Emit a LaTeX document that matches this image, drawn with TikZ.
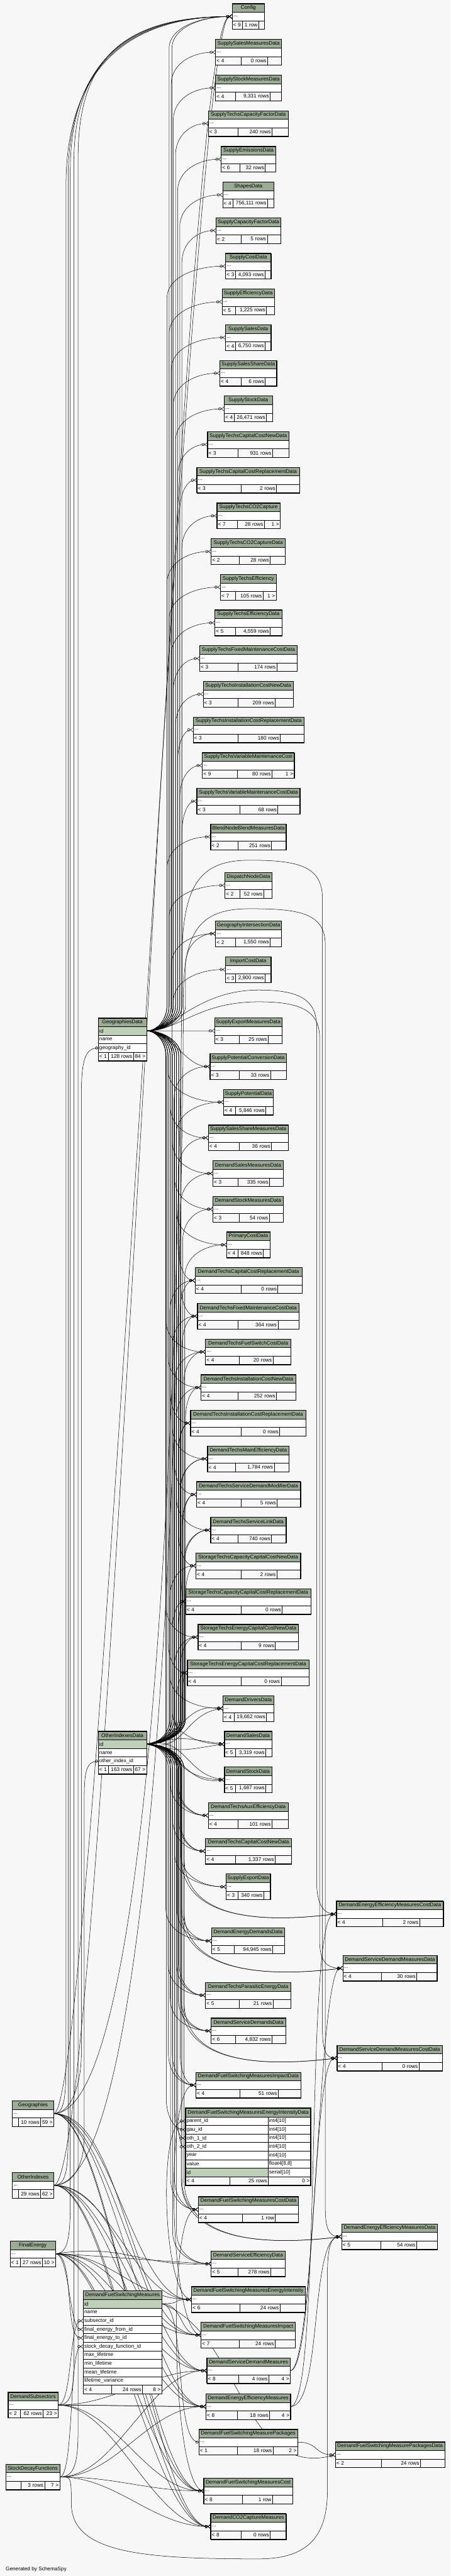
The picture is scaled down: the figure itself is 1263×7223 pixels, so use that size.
\documentclass[tikz,border=0pt]{standalone}
\usepackage{fontspec}
\setmainfont{Liberation Sans}
\usetikzlibrary{arrows.meta, positioning, calc}
\definecolor{paper}{HTML}{F7F7F7}
\definecolor{headbg}{HTML}{9BAB96}
\definecolor{keybg}{HTML}{BED1B8}
\pgfdeclarelayer{back}
\pgfdeclarelayer{links}
\pgfsetlayers{back,links,main}
\newcommand{\tfont}{\fontsize{14.5pt}{17pt}\selectfont}
% table header: name, left, top, width, title
\newcommand{\dbhead}[5]{%
  \xdef\tabw{#4}%
  \node[thead, minimum width=#4pt] (#1) at (#2,#3) {#5};}
% full width row under another node
\newcommand{\dbrow}[4][tbody]{%
  \pgfmathsetmacro{\rw}{\tabw-6}%
  \node[#1, text width=\rw pt, align=left] (#2) at (#3.south west) {\mbox{#4}};}
% two column row of the focus table
\newcommand{\dbpair}[5][tbody]{%
  \node[#1, text width=225.2pt, align=left] (#2) at (#3.south west) {\mbox{#4}};
  \node[tbody, text width=114pt, align=left] (#2-t) at (#2.north east) {\mbox{#5}};}
% collapsed table
\newcommand{\dbtab}[5]{\dbhead{#1}{#2}{#3}{#4}{#5}\dbrow{#1-b}{#1}{...}}
% footer: name, above, w1, w2, left, middle, right
\newcommand{\dbfoot}[7]{%
  \pgfmathsetmacro{\wa}{#3-6}\pgfmathsetmacro{\wb}{#4-6}\pgfmathsetmacro{\wc}{\tabw-#3-#4-6}%
  \node[tfoot, text width=\wa pt, align=left] (#1-f1) at (#2.south west) {\mbox{#5}};
  \node[tfoot, text width=\wb pt, align=right] (#1-f2) at (#1-f1.north east) {\mbox{#6}};
  \node[tfoot, text width=\wc pt, align=right] (#1-f3) at (#1-f2.north east) {\mbox{#7}};
  \draw[tframe] (#1.north west) rectangle (#1-f3.south east);}
% links
\newcommand{\fk}[3][90]{\draw[fk] (#2) .. controls +(#1,0) and +(-#1,0) .. (#3);}
\newcommand{\fkup}[3]{%
  \draw[fk] let \p1=(#1), \p2=(#2) in (#1) .. controls ({(\x1+#3pt)/2},\y1) and (#3pt,\y1+30pt) .. (#3pt,\y1+70pt)
    -- (#3pt,\y2-90pt) .. controls (#3pt,\y2-30pt) and ({(#3pt+\x2)/2},\y2) .. (#2);}
\newcommand{\fkdn}[3]{%
  \draw[fk] let \p1=(#1), \p2=(#2) in (#1) .. controls ({(\x1+#3pt)/2},\y1) and (#3pt,\y1-30pt) .. (#3pt,\y1-70pt)
    -- (#3pt,\y2+90pt) .. controls (#3pt,\y2+30pt) and ({(#3pt+\x2)/2},\y2) .. (#2);}
\newcommand{\fksw}[3]{%
  \draw[fk] let \p1=(#1), \p2=(#2) in (#1) .. controls ({(\x1+#3pt)/2},\y1) and (#3pt,\y1-30pt) .. (#3pt,\y1-70pt)
    -- (#3pt,\y2+160pt) .. controls (#3pt,\y2+40pt) and (\x2-330pt,\y2-40pt) .. (#2);}

\begin{document}
\begin{tikzpicture}[x=1pt, y=-1pt,
    cell/.style={draw=black, line width=0.8pt, inner xsep=3pt, inner ysep=0pt, outer sep=0pt, minimum height=24pt, anchor=north west, font=\tfont},
    thead/.style={cell, fill=headbg},
    tbody/.style={cell, fill=white},
    tkey/.style={cell, fill=keybg},
    tfoot/.style={cell, fill=paper},
    tframe/.style={line width=1.6pt},
    fk/.style={line width=0.9pt, -{Circle[open, length=8pt, width=8pt] Straight Barb[reversed, length=7pt, width=11pt]}},
    zo/.style={line width=0.9pt, -{Circle[open, length=8pt, width=8pt] Bar[width=11pt]}}
  ]
  \useasboundingbox (0,0) rectangle (1263,7223);
  \begin{pgfonlayer}{back}
    \fill[paper] (0,0) rectangle (1263,7223);
  \end{pgfonlayer}

  % right column
  \dbtab{cfg}{650.8}{10.4}{91.0}{Config} \dbfoot{cfg}{cfg-b}{28.2}{45.9}{< 9}{1 row}{}
  \dbtab{ssmd}{604.1}{110.4}{185.3}{SupplySalesMeasuresData} \dbfoot{ssmd}{ssmd-b}{70.9}{74.9}{< 4}{0 rows}{}
  \dbtab{sstkm}{604.1}{210.4}{185.3}{SupplyStockMeasuresData} \dbfoot{sstkm}{sstkm-b}{56.4}{96.7}{< 4}{9,331 rows}{}
  \dbtab{stcf}{584.0}{310.4}{223.9}{SupplyTechsCapacityFactorData} \dbfoot{stcf}{stcf-b}{83.0}{95.0}{< 3}{240 rows}{}
  \dbtab{sem}{620.2}{410.4}{153.0}{SupplyEmissionsData} \dbfoot{sem}{sem-b}{51.6}{71.7}{< 6}{32 rows}{}
  \dbtab{shp}{624.2}{510.4}{143.4}{ShapesData} \dbfoot{shp}{shp-b}{28.2}{97.5}{< 4}{756,111 rows}{}
  \dbtab{scf}{605.7}{610.4}{182.0}{SupplyCapacityFactorData} \dbfoot{scf}{scf-b}{69.3}{74.1}{< 2}{5 rows}{}
  \dbtab{sco}{632.3}{710.4}{127.3}{SupplyCostData} \dbfoot{sco}{sco-b}{28.2}{82.2}{< 3}{4,093 rows}{}
  \dbtab{sef}{622.6}{810.4}{146.6}{SupplyEfficiencyData} \dbfoot{sef}{sef-b}{37.9}{86.2}{< 5}{1,225 rows}{}
  \dbtab{ssa}{632.3}{910.4}{127.3}{SupplySalesData} \dbfoot{ssa}{ssa-b}{28.2}{82.2}{< 4}{6,750 rows}{}
  \dbtab{sssh}{616.2}{1010.4}{159.5}{SupplySalesShareData} \dbfoot{sssh}{sssh-b}{58.8}{68.5}{< 4}{6 rows}{}
  \dbtab{sst}{628.3}{1110.4}{135.3}{SupplyStockData} \dbfoot{sst}{sst-b}{28.2}{90.2}{< 4}{26,471 rows}{}
  \dbtab{stccn}{581.6}{1210.4}{228.8}{SupplyTechsCapitalCostNewData} \dbfoot{stccn}{stccn-b}{85.4}{96.7}{< 3}{931 rows}{}
  \dbtab{stccr}{551.8}{1310.4}{287.6}{SupplyTechsCapitalCostReplacementData} \dbfoot{stccr}{stccr-b}{123.2}{99.9}{< 3}{2 rows}{}
  \dbtab{stco}{608.1}{1410.4}{177.2}{SupplyTechsCO2Capture} \dbfoot{stco}{stco-b}{57.2}{75.7}{< 7}{28 rows}{1 >}
  \dbtab{stcod}{592.0}{1510.4}{207.8}{SupplyTechsCO2CaptureData} \dbfoot{stcod}{stcod-b}{78.9}{86.2}{< 2}{28 rows}{}
  \dbtab{ste}{617.8}{1610.4}{156.3}{SupplyTechsEfficiency} \dbfoot{ste}{ste-b}{42.7}{76.5}{< 7}{105 rows}{1 >}
  \dbtab{sted}{602.5}{1710.4}{187.7}{SupplyTechsEfficiencyData} \dbfoot{sted}{sted-b}{58.0}{96.7}{< 5}{4,559 rows}{}
  \dbtab{stfm}{559.8}{1810.4}{273.1}{SupplyTechsFixedMaintenanceCostData} \dbfoot{stfm}{stfm-b}{107.9}{107.9}{< 3}{174 rows}{}
  \dbtab{stin}{569.5}{1910.4}{252.9}{SupplyTechsInstallationCostNewData} \dbfoot{stin}{stin-b}{97.5}{103.9}{< 3}{209 rows}{}
  \dbtab{stir}{541.3}{2010.4}{310.9}{SupplyTechsInstallationCostReplacementData} \dbfoot{stir}{stir-b}{126.5}{117.6}{< 3}{180 rows}{}
  \dbtab{stvm}{567.1}{2110.4}{257.8}{SupplyTechsVariableMaintenanceCost} \dbfoot{stvm}{stvm-b}{98.3}{96.7}{< 9}{80 rows}{1 >}
  \dbtab{stvmd}{551.8}{2210.4}{289.2}{SupplyTechsVariableMaintenanceCostData} \dbfoot{stvmd}{stvmd-b}{120.0}{107.1}{< 3}{68 rows}{}
  \dbtab{bnbm}{590.4}{2310.4}{211.8}{BlendNodeBlendMeasuresData} \dbfoot{bnbm}{bnbm-b}{77.3}{93.4}{< 2}{251 rows}{}
  \dbtab{dnd}{630.7}{2446.4}{131.3}{DispatchNodeData} \dbfoot{dnd}{dnd-b}{41.1}{66.9}{< 2}{52 rows}{}
  \dbtab{gid}{604.1}{2581.9}{185.3}{GeographyIntersectionData} \dbfoot{gid}{gid-b}{56.4}{96.7}{< 2}{1,550 rows}{}
  \dbtab{icd}{632.3}{2682.5}{127.3}{ImportCostData} \dbfoot{icd}{icd-b}{28.2}{82.2}{< 3}{2,900 rows}{}
  \dbtab{semd}{601.7}{2854.4}{188.5}{SupplyExportMeasuresData} \dbfoot{semd}{semd-b}{69.3}{80.5}{< 3}{25 rows}{}
  \dbtab{spcd}{588.8}{2954.4}{213.5}{SupplyPotentialConversionData} \dbfoot{spcd}{spcd-b}{82.2}{87.0}{< 3}{33 rows}{}
  \dbtab{spd}{626.7}{3054.4}{139.3}{SupplyPotentialData} \dbfoot{spd}{spd-b}{33.8}{84.6}{< 4}{5,846 rows}{}
  \dbtab{sssm}{584.0}{3154.4}{223.9}{SupplySalesShareMeasuresData} \dbfoot{sssm}{sssm-b}{87.0}{90.2}{< 4}{36 rows}{}
  \dbtab{dsam}{596.9}{3254.4}{197.3}{DemandSalesMeasuresData} \dbfoot{dsam}{dsam-b}{70.1}{88.6}{< 3}{335 rows}{}
  \dbtab{dstm}{596.9}{3354.4}{197.3}{DemandStockMeasuresData} \dbfoot{dstm}{dstm-b}{74.1}{83.8}{< 3}{54 rows}{}
  \dbtab{pcd}{635.5}{3454.4}{121.6}{PrimaryCostData} \dbfoot{pcd}{pcd-b}{32.2}{70.1}{< 4}{848 rows}{}
  \dbtab{dtccr}{546.9}{3554.4}{299.6}{DemandTechsCapitalCostReplacementData} \dbfoot{dtccr}{dtccr-b}{128.1}{103.9}{< 4}{0 rows}{}
  \dbtab{dtfm}{553.4}{3654.4}{285.1}{DemandTechsFixedMaintenanceCostData} \dbfoot{dtfm}{dtfm-b}{113.6}{112.0}{< 4}{364 rows}{}
  \dbtab{dtfs}{575.9}{3754.4}{240.0}{DemandTechsFuelSwitchCostData} \dbfoot{dtfs}{dtfs-b}{95.0}{94.2}{< 4}{20 rows}{}
  \dbtab{dtin}{563.8}{3854.4}{265.0}{DemandTechsInstallationCostNewData} \dbfoot{dtin}{dtin-b}{103.9}{107.1}{< 4}{252 rows}{}
  \dbtab{dtir}{534.0}{3954.4}{323.0}{DemandTechsInstallationCostReplacementData} \dbfoot{dtir}{dtir-b}{141.0}{108.7}{< 4}{0 rows}{}
  \dbtab{dtme}{581.6}{4054.4}{228.8}{DemandTechsMainEfficiencyData} \dbfoot{dtme}{dtme-b}{78.9}{107.9}{< 4}{1,784 rows}{}
  \dbtab{dtsdm}{551.0}{4154.4}{291.6}{DemandTechsServiceDemandModifierData} \dbfoot{dtsdm}{dtsdm-b}{124.0}{101.5}{< 4}{5 rows}{}
  \dbtab{dtsl}{590.4}{4254.4}{211.8}{DemandTechsServiceLinkData} \dbfoot{dtsl}{dtsl-b}{77.3}{93.4}{< 4}{740 rows}{}
  \dbtab{sccn}{549.3}{4354.4}{293.2}{StorageTechsCapacityCapitalCostNewData} \dbfoot{sccn}{sccn-b}{125.7}{100.7}{< 4}{2 rows}{}
  \dbtab{sccr}{520.3}{4454.4}{351.2}{StorageTechsCapacityCapitalCostReplacementData} \dbfoot{sccr}{sccr-b}{154.7}{116.0}{< 4}{0 rows}{}
  \dbtab{secn}{555.0}{4554.4}{281.9}{StorageTechsEnergyCapitalCostNewData} \dbfoot{secn}{secn-b}{120.0}{96.7}{< 4}{9 rows}{}
  \dbtab{secr}{525.2}{4654.4}{340.7}{StorageTechsEnergyCapitalCostReplacementData} \dbfoot{secr}{secr-b}{149.8}{112.8}{< 4}{0 rows}{}
  \dbtab{ddd}{625.1}{4754.4}{142.6}{DemandDriversData} \dbfoot{ddd}{ddd-b}{31.4}{90.2}{< 4}{19,662 rows}{}
  \dbtab{dsa}{629.1}{4854.4}{132.9}{DemandSalesData} \dbfoot{dsa}{dsa-b}{31.4}{84.6}{< 5}{3,319 rows}{}
  \dbtab{dstk}{629.1}{4954.4}{132.9}{DemandStockData} \dbfoot{dstk}{dstk-b}{31.4}{84.6}{< 5}{1,687 rows}{}
  \dbtab{dtae}{584.0}{5054.4}{223.9}{DemandTechsAuxEfficiencyData} \dbfoot{dtae}{dtae-b}{83.0}{95.0}{< 4}{101 rows}{}
  \dbtab{dtccn}{575.9}{5154.4}{241.6}{DemandTechsCapitalCostNewData} \dbfoot{dtccn}{dtccn-b}{84.6}{110.4}{< 4}{1,337 rows}{}
  \dbtab{sexd}{633.9}{5254.4}{124.0}{SupplyExportData} \dbfoot{sexd}{sexd-b}{33.0}{71.7}{< 3}{340 rows}{}
  \dbtab{dedd}{592.8}{5406.1}{205.4}{DemandEnergyDemandsData} \dbfoot{dedd}{dedd-b}{64.4}{107.1}{< 5}{94,945 rows}{}
  \dbtab{dtpe}{575.9}{5558.5}{240.0}{DemandTechsParasiticEnergyData} \dbfoot{dtpe}{dtpe-b}{95.0}{94.2}{< 5}{21 rows}{}
  \dbtab{dsdd}{592.0}{5658.3}{209.4}{DemandServiceDemandsData} \dbfoot{dsdd}{dsdd-b}{68.5}{101.5}{< 6}{4,832 rows}{}
  \dbtab{dfsmid}{549.3}{5810.4}{294.0}{DemandFuelSwitchingMeasuresImpactData} \dbfoot{dfsmid}{dfsmid-b}{122.4}{107.9}{< 4}{51 rows}{}
  % focus table
  \dbhead{dfsmeid}{520.3}{5911.3}{351.2}{DemandFuelSwitchingMeasuresEnergyIntensityData}
  \dbpair{dfsmeid-par}{dfsmeid}{parent\_id}{int4[10]}
  \dbpair{dfsmeid-gau}{dfsmeid-par}{gau\_id}{int4[10]}
  \dbpair{dfsmeid-o1}{dfsmeid-gau}{oth\_1\_id}{int4[10]}
  \dbpair{dfsmeid-o2}{dfsmeid-o1}{oth\_2\_id}{int4[10]}
  \dbpair{dfsmeid-yr}{dfsmeid-o2}{year}{int4[10]}
  \dbpair{dfsmeid-val}{dfsmeid-yr}{value}{float4[8,8]}
  \dbpair[tkey]{dfsmeid-id}{dfsmeid-val}{id}{serial[10]}
  \dbfoot{dfsmeid}{dfsmeid-id}{123.2}{107.9}{< 4}{25 rows}{0 >}
  \draw[line width=4pt] (dfsmeid.north west) rectangle (dfsmeid-f3.south east);
  \dbtab{dfsmcd}{555.8}{6159.4}{281.1}{DemandFuelSwitchingMeasuresCostData} \dbfoot{dfsmcd}{dfsmcd-b}{124.0}{91.8}{< 4}{1 row}{}
  \dbtab{dsed}{592.0}{6311.4}{207.0}{DemandServiceEfficiencyData} \dbfoot{dsed}{dsed-b}{74.9}{91.8}{< 5}{278 rows}{}
  \dbtab{dfsmei}{537.3}{6411.6}{318.2}{DemandFuelSwitchingMeasuresEnergyIntensity} \dbfoot{dfsmei}{dfsmei-b}{134.5}{112.8}{< 6}{24 rows}{}
  \dbtab{dfsmi}{563.8}{6511.4}{264.2}{DemandFuelSwitchingMeasuresImpact} \dbfoot{dfsmi}{dfsmi-b}{107.1}{99.9}{< 7}{24 rows}{}
  \dbtab{dsdm}{580.0}{6611.2}{233.6}{DemandServiceDemandMeasures} \dbfoot{dsdm}{dsdm-b}{88.6}{84.6}{< 8}{4 rows}{4 >}
  \dbtab{deem}{577.5}{6711.8}{236.8}{DemandEnergyEfficiencyMeasures} \dbfoot{deem}{deem-b}{87.8}{90.2}{< 8}{18 rows}{4 >}
  \dbtab{dfsmp}{557.4}{6811.7}{277.1}{DemandFuelSwitchingMeasurePackages} \dbfoot{dfsmp}{dfsmp-b}{107.9}{99.9}{< 1}{18 rows}{2 >}
  \dbtab{dfsmc}{571.1}{6948.3}{249.7}{DemandFuelSwitchingMeasuresCost} \dbfoot{dfsmc}{dfsmc-b}{107.9}{84.6}{< 8}{1 row}{}
  \dbtab{dco2}{590.4}{7048.2}{211.8}{DemandCO2CaptureMeasures} \dbfoot{dco2}{dco2-b}{84.6}{82.2}{< 8}{0 rows}{}

  % far right column
  \dbtab{deemcd}{943.2}{5330.5}{299.6}{DemandEnergyEfficiencyMeasuresCostData} \dbfoot{deemcd}{deemcd-b}{129.7}{103.1}{< 4}{2 rows}{}
  \dbtab{dsdmd}{961.0}{5482.5}{264.2}{DemandServiceDemandMeasuresData} \dbfoot{dsdmd}{dsdmd-b}{107.9}{99.1}{< 4}{30 rows}{}
  \dbtab{dsdmcd}{944.8}{5734.7}{295.6}{DemandServiceDemandMeasuresCostData} \dbfoot{dsdmcd}{dsdmcd-b}{126.5}{103.1}{< 4}{0 rows}{}
  \dbtab{deemd}{957.7}{6235.4}{269.0}{DemandEnergyEfficiencyMeasuresData} \dbfoot{deemd}{deemd-b}{109.5}{100.7}{< 5}{54 rows}{}
  \dbtab{dfsmpd}{940.0}{6847.0}{306.9}{DemandFuelSwitchingMeasurePackagesData} \dbfoot{dfsmpd}{dfsmpd-b}{128.9}{109.5}{< 2}{24 rows}{}

  % middle column
  \dbhead{gd}{275.5}{2854.5}{135.3}{GeographiesData}
  \dbrow[tkey]{gd-id}{gd}{id}
  \dbrow{gd-name}{gd-id}{name}
  \dbrow{gd-geo}{gd-name}{geography\_id}
  \dbfoot{gd}{gd-geo}{29.0}{69.3}{< 1}{128 rows}{84 >}
  \dbhead{od}{275.5}{4854.4}{135.3}{OtherIndexesData}
  \dbrow[tkey]{od-id}{od}{id}
  \dbrow{od-name}{od-id}{name}
  \dbrow{od-oid}{od-name}{other\_index\_id}
  \dbfoot{od}{od-oid}{29.0}{69.3}{< 1}{163 rows}{67 >}
  \dbhead{dfsm}{233.6}{6423.5}{219.9}{DemandFuelSwitchingMeasures}
  \dbrow[tkey]{dfsm-id}{dfsm}{id}
  \dbrow{dfsm-name}{dfsm-id}{name}
  \dbrow{dfsm-sub}{dfsm-name}{subsector\_id}
  \dbrow{dfsm-from}{dfsm-sub}{final\_energy\_from\_id}
  \dbrow{dfsm-to}{dfsm-from}{final\_energy\_to\_id}
  \dbrow{dfsm-sdf}{dfsm-to}{stock\_decay\_function\_id}
  \dbrow{dfsm-max}{dfsm-sdf}{max\_lifetime}
  \dbrow{dfsm-min}{dfsm-max}{min\_lifetime}
  \dbrow{dfsm-mean}{dfsm-min}{mean\_lifetime}
  \dbrow{dfsm-var}{dfsm-mean}{lifetime\_variance}
  \dbfoot{dfsm}{dfsm-var}{78.9}{86.2}{< 4}{24 rows}{8 >}

  % left column
  \dbtab{geo}{34.6}{5890.2}{116.0}{Geographies} \dbfoot{geo}{geo-b}{16.9}{62.0}{}{10 rows}{59 >}
  \dbtab{oi}{34.6}{6091.4}{116.0}{OtherIndexes} \dbfoot{oi}{oi-b}{16.9}{62.0}{}{29 rows}{62 >}
  \dbtab{fe}{28.2}{6283.4}{127.3}{FinalEnergy} \dbfoot{fe}{fe-b}{29.0}{61.2}{< 1}{27 rows}{10 >}
  \dbtab{dsub}{22.6}{6707.6}{140.2}{DemandSubsectors} \dbfoot{dsub}{dsub-b}{34.6}{63.6}{< 2}{62 rows}{23 >}
  \dbtab{sdf}{16.1}{6909.2}{151.4}{StockDecayFunctions} \dbfoot{sdf}{sdf-b}{42.7}{66.0}{}{3 rows}{7 >}

  \node[anchor=west, inner sep=0pt, font=\tfont] (gen) at (16,7205) {Generated by SchemaSpy};

  \begin{pgfonlayer}{links}
    % GeographiesData.id
    \foreach \tg [count=\i] in {cfg,ssmd,sstkm,stcf,sem,shp,scf,sco,sef,ssa,sssh,sst,stccn,stccr,stco,stcod,ste,sted,stfm,stin,stir,stvm,stvmd,bnbm,dnd,gid,icd}
      {\pgfmathsetmacro{\lx}{468+6*mod(\i,8)}\fkup{gd-id.east}{\tg-b.west}{\lx}}
    \fkup{gd-id.east}{gid-b.west}{520}
    \fk{gd-id.east}{semd-b.west}
    \fk[70]{gd-id.east}{spcd-b.west}
    \foreach \tg [count=\i] in {spd,sssm,dsam,dstm,pcd,dtccr,dtfm,dtfs,dtin,dtir,dtme,dtsdm,dtsl,sccn,sccr,secn,secr,ddd,dsa,dstk,dtae,dtccn,sexd,dedd,dtpe,dsdd,dfsmid,dfsmcd,dsed}
      {\pgfmathsetmacro{\lx}{465+6*mod(\i,8)}\fkdn{gd-id.east}{\tg-b.west}{\lx}}
    \fkdn{gd-id.east}{dfsmeid-gau.west}{466}
    \draw[fk] (gd-id.east) .. controls +(70,0) and +(-170,0) .. (725,2776) .. controls +(110,0) and +(0,-80) .. (888,2880)
      -- (888,5280) .. controls +(0,60) and +(-35,0) .. (deemcd-b.west);
    \draw[fk] (gd-id.east) .. controls +(90,0) and +(-170,0) .. (725,2809) .. controls +(110,0) and +(0,-80) .. (896,2910)
      -- (896,5440) .. controls +(0,60) and +(-45,0) .. (dsdmd-b.west);
    % OtherIndexesData.id
    \foreach \tg [count=\i] in {cfg,spcd,spd,sssm,dsam,dstm,pcd,dtccr,dtfm,dtfs,dtin,dtir,dtme,dtsdm,dtsl,sccn,sccr,secn,secr}
      {\pgfmathsetmacro{\lx}{476+6*mod(\i,8)}\fkup{od-id.east}{\tg-b.west}{\lx}}
    \foreach \tg [count=\i] in {dtccr,dtfm,dtfs,dtin,dtir,dtme,dtsdm,dtsl,sccn,sccr,secn,secr}
      {\pgfmathsetmacro{\lx}{500+5*mod(\i,5)}\fkup{od-id.east}{\tg-b.west}{\lx}}
    \foreach \tg in {ddd,dsa,dstk}
      {\draw[fk] (od-id.east) .. controls +(110,-25) and +(-110,-15) .. (\tg-b.west);
       \draw[fk] (od-id.east) .. controls +(110,25) and +(-110,15) .. (\tg-b.west);}
    \foreach \tg [count=\i] in {dtae,dtccn,sexd,dedd,dtpe,dsdd,dfsmid,dfsmcd,dsed}
      {\pgfmathsetmacro{\lx}{472+6*mod(\i,7)}\fkdn{od-id.east}{\tg-b.west}{\lx}}
    \foreach \tg [count=\i] in {dtae,dtccn,dedd,dtpe,dsdd,dfsmid,dfsmcd}
      {\pgfmathsetmacro{\lx}{495+5*mod(\i,4)}\fkdn{od-id.east}{\tg-b.west}{\lx}}
    \fkdn{od-id.east}{dfsmeid-o1.west}{490}
    \fkdn{od-id.east}{dfsmeid-o2.west}{498}
    \foreach \tg in {deemcd,dsdmd,dsdmcd,deemd}
      {\fksw{od-id.east}{\tg-b.west}{508}\fksw{od-id.east}{\tg-b.west}{516}}
    % left tables up to Config
    \draw[fk] (geo-b.east) .. controls +(30,0) and +(0,100) .. (185,5780) -- (185,520) .. controls +(0,-320) and +(-300,0) .. (cfg-b.west);
    \draw[fk] (oi-b.east) .. controls +(36,0) and +(0,100) .. (191,5980) -- (191,500) .. controls +(0,-310) and +(-300,0) .. (cfg-b.west);
    \draw[fk] (fe-b.east) .. controls +(36,0) and +(0,100) .. (197,6170) -- (197,480) .. controls +(0,-300) and +(-300,0) .. (cfg-b.west);
    \draw[fk] (dsub-b.east) .. controls +(40,0) and +(0,100) .. (207,6600) -- (207,460) .. controls +(0,-290) and +(-300,0) .. (cfg-b.west);
    \draw[fk] (sdf-b.east) .. controls +(45,0) and +(0,100) .. (219,6800) -- (219,440) .. controls +(0,-280) and +(-300,0) .. (cfg-b.west);
    \fk[120]{geo-b.east}{cfg-b.west}
    \fk[150]{oi-b.east}{cfg-b.west}
    \draw[zo] (geo-b.east) .. controls +(50,0) and +(0,80) .. (228,5760) -- (228,3080) .. controls +(0,-100) and +(-40,0) .. (gd-geo.west);
    \draw[zo] (oi-b.east) .. controls +(55,0) and +(0,80) .. (236,5990) -- (236,5080) .. controls +(0,-100) and +(-40,0) .. (od-oid.west);
    \draw[fk] (geo-b.east) .. controls +(330,0) and +(0,300) .. (510,2700) .. controls +(0,-220) and +(-140,0) .. (700,2412)
      .. controls +(140,0) and +(0,-90) .. (904,2520) -- (904,5690) .. controls +(0,60) and +(-30,0) .. (dsdmcd-b.west);
    \draw[fk] (oi-b.east) .. controls +(340,0) and +(0,300) .. (514,2800) .. controls +(0,-190) and +(-140,0) .. (700,2548)
      .. controls +(140,0) and +(0,-90) .. (912,2650) -- (912,6190) .. controls +(0,60) and +(-35,0) .. (deemd-b.west);
    \draw[fk] (sdf-b.east) .. controls +(30,0) and +(0,-80) .. (200,7020) .. controls +(0,140) and +(-320,0) .. (725,7175)
      .. controls +(150,0) and +(0,120) .. (918,6980) -- (918,6380) .. controls +(0,-80) and +(-30,0) .. (deemd-b.west);
    % left tables to the bottom tables
    \foreach \src in {geo,oi,fe,dsub,sdf}
      {\foreach \tg in {dsdm,deem,dfsmc,dco2} {\fk[160]{\src-b.east}{\tg-b.west}}}
    \foreach \src in {geo,oi,fe}
      {\fk[160]{\src-b.east}{dfsmei-b.west}\fk[200]{\src-b.east}{dfsmi-b.west}}
    \fk[60]{dsub-b.east}{deem-b.west}
    \fk[40]{fe-b.east}{dsed-b.west}
    \draw[fk] (fe-b.east) .. controls +(200,-30) and +(-200,10) .. (dsed-b.west);
    \fk[40]{dsub-b.east}{dfsm-sub.west}
    \fk[40]{fe-b.east}{dfsm-from.west}
    \fk[55]{fe-b.east}{dfsm-to.west}
    \fk[40]{sdf-b.east}{dfsm-sdf.west}
    % DemandFuelSwitchingMeasures.id
    \fk[60]{dfsm-id.east}{dfsmei-b.west}
    \fk[60]{dfsm-id.east}{dfsmi-b.west}
    \draw[zo] (dfsm-id.east) .. controls +(70,0) and +(-70,0) .. (dfsmp-b.west);
    \draw[fk] (dfsm-id.east) .. controls +(220,80) and +(-260,70) .. (dfsmpd-b.west);
    % inside the right column
    \draw[fk] (dfsmei-b.west) .. controls +(-80,0) and +(-80,0) .. (dfsmeid-par.west);
    \draw[fk] (dfsmi-b.west) .. controls +(-90,0) and +(-90,0) .. (dfsmid-b.west);
    \draw[fk] (dfsmc-b.west) .. controls +(-90,0) and +(-90,0) .. (dfsmcd-b.west);
    \foreach \tg in {dsdmd,dsdmcd} {\fk[70]{dsdm-b.east}{\tg-b.west}}
    \foreach \tg in {deemcd,deemd} {\fk[90]{deem-b.east}{\tg-b.west}}
    \fk[60]{dfsmp-b.east}{dfsmpd-b.west}
  \end{pgfonlayer}
\end{tikzpicture}
\end{document}
